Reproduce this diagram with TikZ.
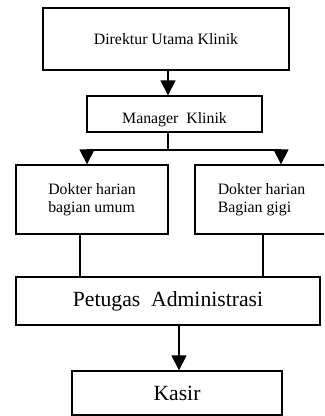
\documentclass[tikz,border=0pt]{standalone}
\usepackage{fontspec}
\setmainfont{Liberation Serif}
\usetikzlibrary{arrows.meta}

\begin{document}
\begin{tikzpicture}[
    x=0.6pt, y=-0.6pt,
    box/.style={draw, line width=0.8pt, inner sep=2pt, font=\fontsize{9.5}{11}\selectfont, align=center},
    bigbox/.style={box, font=\fontsize{13}{15}\selectfont},
    >={Triangle[width=9pt,length=9pt]}, line width=0.8pt
]
\clip (0,0) rectangle (324,416);
\node[box, minimum width=147.6pt, minimum height=37.2pt] (direktur) at (166,39) {Direktur Utama Klinik};
\node[box, minimum width=105pt, minimum height=21.6pt, text height=11.5pt, text depth=0pt] (manager) at (174.5,114) {Manager\ \ Klinik};
\node[box, align=left, minimum width=91.2pt, minimum height=41.4pt] (umum) at (92,199.5) {Dokter harian\\bagian umum};
\node[box, align=left, minimum width=79.8pt, minimum height=41.4pt] (gigi) at (261.5,199.5) {Dokter harian\\Bagian gigi};
\node[bigbox, minimum width=182.4pt, minimum height=28.8pt] (admin) at (168,301) {Petugas\ \ Administrasi};
\node[bigbox, minimum width=126pt, minimum height=26.4pt] (kasir) at (177,393) {Kasir};
% tap points
\coordinate (top) at (168,0);
\coordinate (split) at (168,150);
\coordinate (left) at (87,150);
\coordinate (right) at (281,150);
\draw[->] (direktur.south -| top) -- (manager.north -| top);
\draw (manager.south -| split) -- (split);
\draw[->] (split) -- (left) -- (left |- umum.north);
\draw[->] (split) -- (right) -- (right |- gigi.north);
\draw (umum.south -| 80,0) -- (admin.north -| 80,0);
\draw (gigi.south -| 263,0) -- (admin.north -| 263,0);
\draw[->] (admin.south -| 179,0) -- (kasir.north -| 179,0);
\end{tikzpicture}
\end{document}
